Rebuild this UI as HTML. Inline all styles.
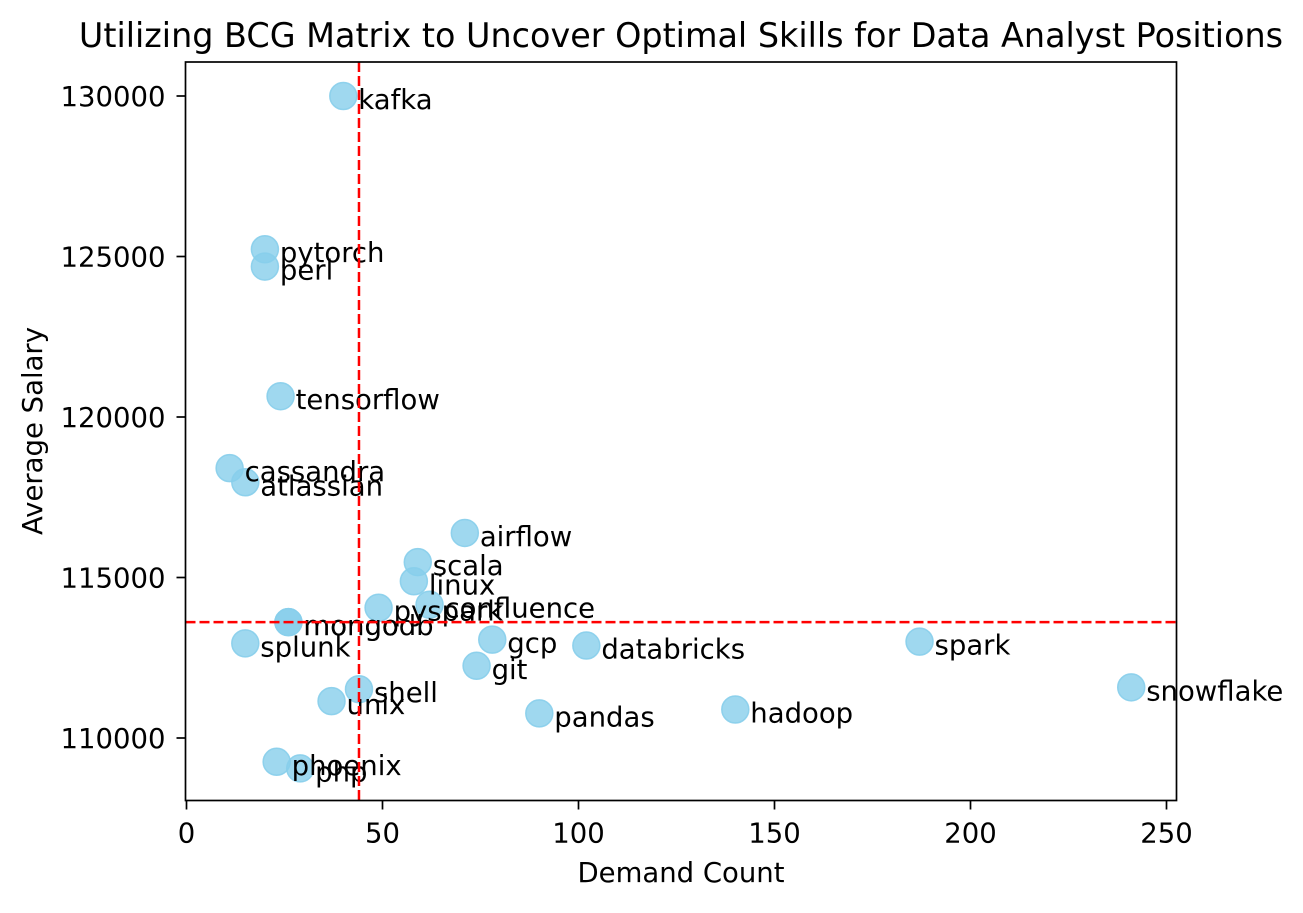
<!DOCTYPE html>
<html><head><meta charset="utf-8"><style>
body{margin:0;background:#fff;}
svg text{font-family:"DejaVu Sans","Liberation Sans",sans-serif;fill:#000;}
</style></head><body>
<svg id="chart" width="1303" height="908" xmlns="http://www.w3.org/2000/svg">
<rect width="1303" height="908" fill="#fff"/>
<text x="681" y="47" font-size="33.4" text-anchor="middle">Utilizing BCG Matrix to Uncover Optimal Skills for Data Analyst Positions</text>
<g id="marks"></g>
<g id="axes"></g>
<text x="681" y="882" font-size="27.5" text-anchor="middle">Demand Count</text>
<text transform="translate(42,431) rotate(-90)" font-size="27.5" text-anchor="middle">Average Salary</text>
</svg>
<script>
const skills=["kafka","pytorch","perl","tensorflow","cassandra","atlassian","airflow","scala","linux","confluence","pyspark","mongo","mongodb","splunk","gcp","databricks","spark","git","shell","unix","snowflake","hadoop","pandas","phoenix","php"];
const demand=[40,20,20,24,11,15,71,59,58,62,49,26,26,15,78,102,187,74,44,37,241,140,90,23,29];
const salary=[130000,125226,124686,120647,118407,117966,116387,115480,114883,114153,114058,113608,113608,112948,113065,112881,113002,112250,111520,111149,111578,110888,110767,109259,109052];
const xTicks=[0,50,100,150,200,250];
const yTicks=[110000,115000,120000,125000,130000];
const medianDemand=44;
const medianSalary=113608;

const L=185.5,R=1176.5,T=62,B=800.5;
const xs=v=>186.5+(v-0)*3.92;
const ys=v=>96+(130000-v)*(642/20000);
const NS="http://www.w3.org/2000/svg";
function mk(tag,attrs,parent){const e=document.createElementNS(NS,tag);for(const k in attrs)e.setAttribute(k,attrs[k]);parent.appendChild(e);return e;}
const marks=document.getElementById('marks'),axes=document.getElementById('axes');
skills.forEach((s,i)=>{
  const c=mk('circle',{cx:xs(demand[i]),cy:ys(salary[i]),r:13.5,fill:'rgba(135,206,235,0.8)',stroke:'rgba(135,206,235,0.9)','stroke-width':1.5},marks);
  
  
});
skills.forEach((s,i)=>{
  const t=mk('text',{x:xs(demand[i])+15,y:ys(salary[i])+13,'font-size':27.5},marks);
  t.textContent=s;
  
  
});
const vl=mk('line',{x1:xs(medianDemand),x2:xs(medianDemand),y1:T,y2:B,stroke:'red','stroke-width':2.5,'stroke-dasharray':'10,4'},axes);


const hl=mk('line',{x1:L,x2:R,y1:ys(medianSalary),y2:ys(medianSalary),stroke:'red','stroke-width':2.5,'stroke-dasharray':'10,4'},axes);


const fr=mk('rect',{x:L,y:T,width:R-L,height:B-T,fill:'none',stroke:'#000','stroke-width':1.7},axes);


xTicks.forEach(v=>{
  mk('line',{x1:xs(v),x2:xs(v),y1:B,y2:B+9,stroke:'#000','stroke-width':1.7},axes);
  const t=mk('text',{x:xs(v),y:B+42,'font-size':27.5,'text-anchor':'middle'},axes);
  t.textContent=v;
  
  
});
yTicks.forEach(v=>{
  mk('line',{x1:L-9,x2:L,y1:ys(v),y2:ys(v),stroke:'#000','stroke-width':1.7},axes);
  const t=mk('text',{x:L-20,y:ys(v)+10,'font-size':27.5,'text-anchor':'end'},axes);
  t.textContent=v;
  
  
});
</script>
</body></html>
